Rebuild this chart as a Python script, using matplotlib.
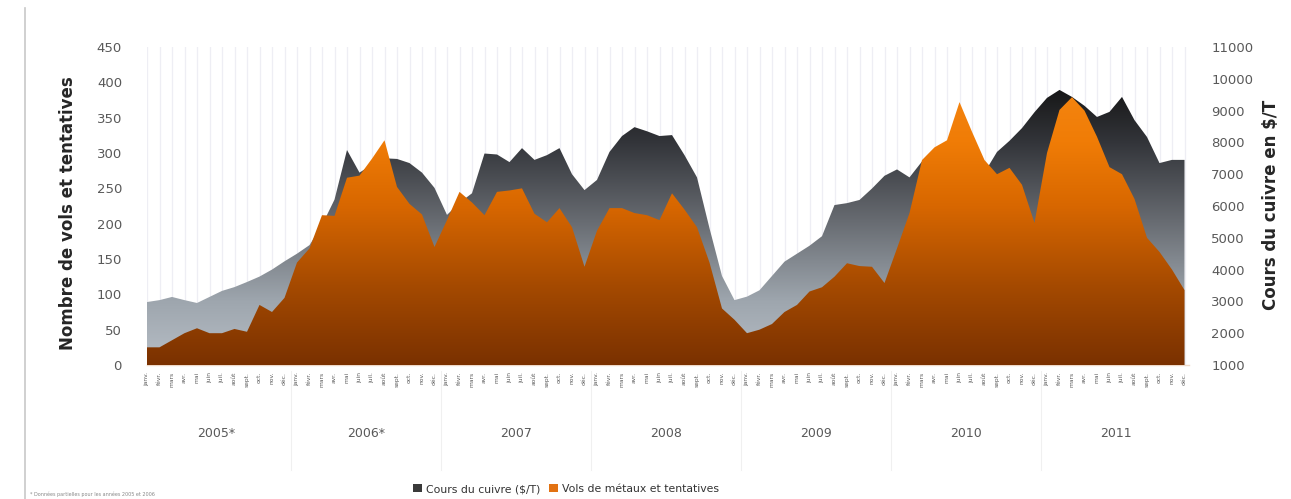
import numpy as np
import matplotlib
matplotlib.use('Agg')
import matplotlib.pyplot as plt
import matplotlib.transforms as mtransforms
from matplotlib.colors import LinearSegmentedColormap
from matplotlib.patches import Patch
from matplotlib.lines import Line2D

plt.rcParams['font.family'] = ['DejaVu Sans']

years = ['2005*', '2006*', '2007', '2008', '2009', '2010', '2011']
month_names = ['janv.', 'févr.', 'mars', 'avr.', 'mai', 'juin',
               'juil.', 'août', 'sept.', 'oct.', 'nov.', 'déc.']

# Cours du cuivre ($/T), monthly 2005-2011
copper = [2980, 3040, 3140, 3040, 2950, 3140, 3330, 3450, 3610, 3780, 4000, 4260,
          4500, 4770, 5400, 6200, 7760, 7050, 7300, 7500, 7480, 7350, 7050, 6570,
          5720, 6100, 6400, 7650, 7620, 7380, 7820, 7450, 7600, 7820, 7000, 6500,
          6820, 7700, 8200, 8480, 8350, 8200, 8230, 7600, 6900, 5300, 3800, 3040,
          3150, 3350, 3800, 4250, 4500, 4750, 5050, 6030, 6090, 6190, 6550, 6950,
          7150, 6900, 7400, 7600, 7700, 6900, 6600, 7050, 7700, 8050, 8450, 8950,
          9400, 9650, 9430, 9150, 8800, 8960, 9430, 8700, 8170, 7350, 7450, 7450]

# Vols de métaux et tentatives, monthly 2005-2011
thefts = [25, 25, 35, 45, 52, 45, 45, 51, 47, 85, 75, 95,
          145, 165, 212, 211, 265, 268, 292, 318, 252, 228, 213, 167,
          205, 245, 230, 212, 245, 247, 250, 214, 202, 222, 195, 139,
          190, 222, 222, 215, 212, 205, 243, 220, 195, 145, 80, 64,
          45, 50, 58, 75, 85, 104, 110, 125, 144, 140, 139, 116,
          165, 215, 290, 308, 318, 372, 330, 290, 270, 279, 255, 201,
          300, 361, 379, 360, 323, 280, 270, 235, 180, 160, 135, 106]

month_labels = [m for _ in years for m in month_names]
x = np.arange(len(copper))

W, H = 1291, 499
fig = plt.figure(figsize=(W / 100, H / 100), dpi=100)
fig.patch.set_facecolor('white')

ax = fig.add_axes([147 / W, 134 / H, 1042 / W, 318 / H])   # copper (right scale)
ax2 = ax.twinx()                                            # thefts (left scale)

ax.set_xlim(0, 83.36)
ax.set_ylim(1000, 11000)
ax2.set_ylim(0, 450)

gray_cmap = LinearSegmentedColormap.from_list('g', [
    (0.0, '#b7bec6'), (0.2, '#9ea6ae'), (0.45, '#686c72'),
    (0.7, '#33353a'), (0.88, '#151515'), (1.0, '#0a0a0a')])
orange_cmap = LinearSegmentedColormap.from_list('o', [
    (0.0, '#7a3100'), (0.25, '#a54a00'), (0.5, '#d86700'),
    (0.7, '#f07c06'), (1.0, '#f88c18')])


def grad_fill(a, xs, ys, base, cmap, z):
    poly = a.fill_between(xs, ys, base, facecolor='none', edgecolor='none', zorder=z)
    ylo, yhi = a.get_ylim()
    xlo, xhi = a.get_xlim()
    grad = np.linspace(0, 1, 256).reshape(-1, 1)
    im = a.imshow(grad, extent=[xs[0], xs[-1], ylo, yhi], origin='lower',
                  aspect='auto', cmap=cmap, zorder=z, interpolation='bilinear')
    im.set_clip_path(poly.get_paths()[0], transform=a.transData)
    a.set_xlim(xlo, xhi)
    a.set_ylim(ylo, yhi)


grad_fill(ax, x, copper, 1000, gray_cmap, 2)
grad_fill(ax2, x, thefts, 0, orange_cmap, 2)

# x axis: month ticks and vertical grid
ax.set_xticks(x)
ax.set_xticklabels(month_labels, rotation=90, fontsize=4.3, color='#5a5a5a')
ax.tick_params(axis='x', length=0, pad=5)
ax.grid(axis='x', color='#eeeef4', lw=0.9, zorder=0)
ax.set_axisbelow(True)

# y axes: copper on the right, thefts on the left
ax.yaxis.tick_right()
ax2.yaxis.tick_left()
ax.set_yticks(np.arange(1000, 11001, 1000))
ax2.set_yticks(np.arange(0, 451, 50))
ax.tick_params(axis='y', length=0, pad=16, labelsize=9.5, labelcolor='#595959')
ax2.tick_params(axis='y', length=0, pad=18, labelsize=9.5, labelcolor='#595959')

for a in (ax, ax2):
    for s in a.spines.values():
        s.set_visible(False)
ax.spines['bottom'].set_visible(True)
ax.spines['bottom'].set_color('#efd9c8')
ax.spines['bottom'].set_linewidth(1.0)

# year labels and separators
trans = mtransforms.blended_transform_factory(ax.transData, ax.transAxes)
for k, yr in enumerate(years):
    ax.text(k * 12 + 5.5, -0.215, yr, transform=trans, ha='center', va='center',
            fontsize=9, color='#595959')
for k in range(1, len(years)):
    ax.add_line(Line2D([k * 12 - 0.5] * 2, [-0.02, -0.33], transform=trans,
                       color='#f0f0f0', lw=0.8, clip_on=False))

# axis titles
fig.text(68 / W, 1 - 213 / H, 'Nombre de vols et tentatives', rotation=90,
         ha='center', va='center', fontsize=12, fontweight='bold', color='#262626')
fig.text(1271 / W, 1 - 205 / H, 'Cours du cuivre en $/T', rotation=90,
         ha='center', va='center', fontsize=12, fontweight='bold', color='#262626')

# legend
handles = [Patch(facecolor='#3a3a3a', label='Cours du cuivre ($/T)'),
           Patch(facecolor='#e27212', label='Vols de métaux et tentatives')]
fig.legend(handles=handles, loc='center', bbox_to_anchor=(566 / W, 1 - 489 / H),
           ncol=2, frameon=False, fontsize=7.8, handlelength=0.8, handleheight=0.8,
           columnspacing=0.8, handletextpad=0.4, labelcolor='#333333')

# source note and frame line
fig.text(30 / W, 1 - 494 / H, '* Données partielles pour les années 2005 et 2006',
         fontsize=3.5, color='#888888', ha='left', va='center')
fig.add_artist(Line2D([25 / W, 25 / W], [0, 1 - 8 / H], transform=fig.transFigure,
                      color='#c8c8c8', lw=1.2))

fig.savefig('out.png', dpi=100, facecolor='white')
